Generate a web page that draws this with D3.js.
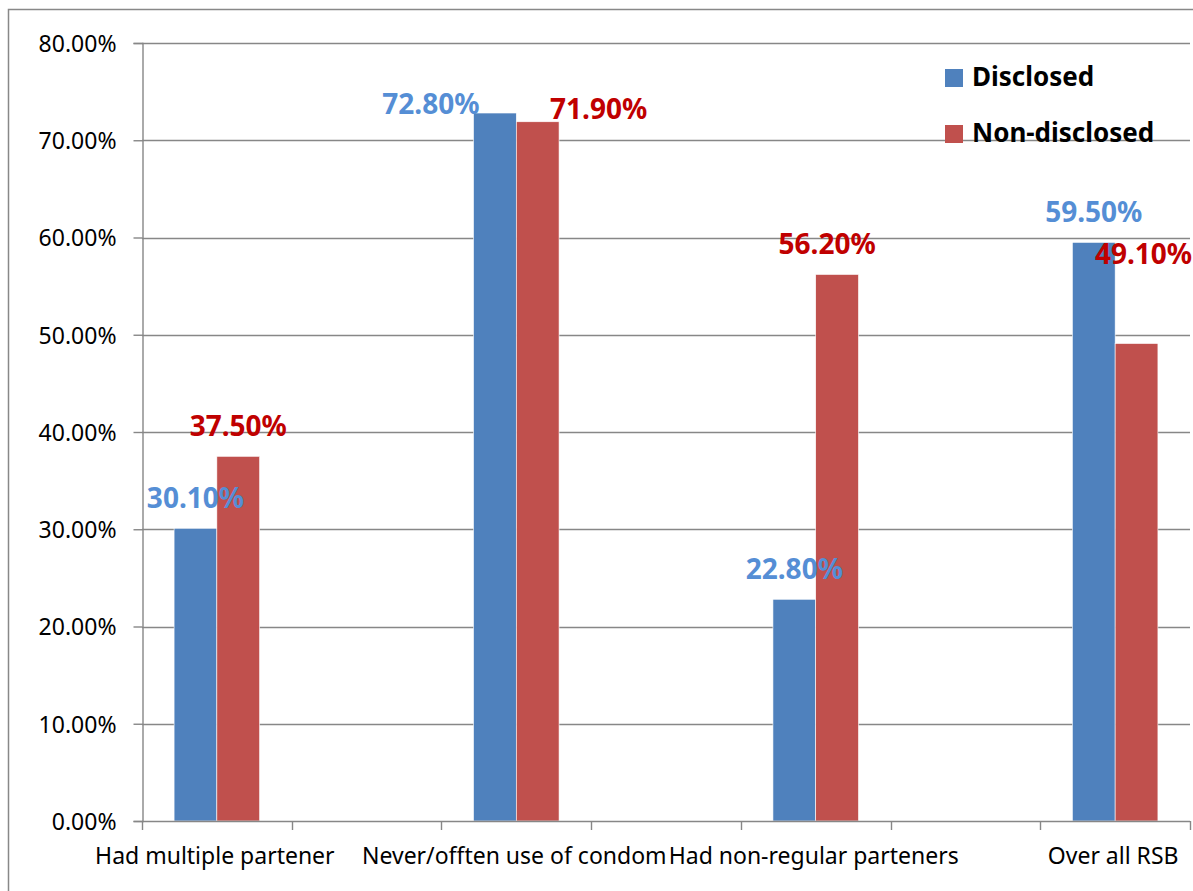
<!DOCTYPE html>
<html>
<head>
<meta charset="utf-8">
<script src="https://cdn.jsdelivr.net/npm/d3@7"></script>
<style>
  body { margin: 0; background: #fff; }
  text { font-family: "Noto Sans", "Open Sans", sans-serif; }
</style>
</head>
<body>
<div id="chart"></div>
<script>
// categories (empty slots between the real ones, as in the original sheet)
const categories = ['Had multiple partener', '', 'Never/offten use of condom', '', 'Had non-regular parteners', '', 'Over all RSB'];
const seriesNames = ['Disclosed', 'Non-disclosed'];
const disclosed = [30.1, null, 72.8, null, 22.8, null, 59.5];
const nonDisclosed = [37.5, null, 71.9, null, 56.2, null, 49.1];
const yTicks = [0, 10, 20, 30, 40, 50, 60, 70, 80];

// hand-moved data labels (offsets in px from the default spot above the bar)
const labelNudgeDisclosed = [[0, 0], null, [-64, 21], null, [0, 0], null, [0, 0]];
const labelNudgeNonDisclosed = [[0, 0], null, [61, 17], null, [-10, 0], null, [7, -60]];

const barColors = ['#4f81bd', '#c0504d'];
const labelColors = ['#558ed5', '#c00000'];

const W = 1193, H = 891;
const margin = {top: 43, right: 3, bottom: 70, left: 142};

const svg = d3.select('#chart')
  .append('svg')
  .attr('width', W)
  .attr('height', H);

// outer frame (only top and left edges show in the crop)
svg.append('rect')
  .attr('x', 8.5)
  .attr('y', 9.5)
  .attr('width', 1400)
  .attr('height', 1000)
  .attr('fill', 'none')
  .attr('stroke', '#888')
  .attr('stroke-width', 1.5);

const x0 = d3.scaleBand()
  .domain(d3.range(categories.length))
  .range([margin.left, W - margin.right]);

const bw = x0.bandwidth();
const gap = bw * 0.75 / 1.75; // excel gap width 75%
const x1 = d3.scaleBand()
  .domain(seriesNames)
  .range([gap / 2, bw - gap / 2]);

const y = d3.scaleLinear()
  .domain([0, 80])
  .range([H - margin.bottom, margin.top]);

// gridlines
svg.append('g')
  .selectAll('line')
  .data(yTicks.filter(d => d > 0))
  .enter()
  .append('line')
  .attr('x1', margin.left)
  .attr('x2', W - margin.right)
  .attr('y1', d => Math.round(y(d)) + 0.5)
  .attr('y2', d => Math.round(y(d)) + 0.5)
  .attr('stroke', '#878787')
  .attr('stroke-width', 1.4);

// bars
const series = [disclosed, nonDisclosed];
series.forEach((vals, s) => {
  svg.append('g')
    .selectAll('rect')
    .data(vals.map((v, i) => ({v: v, i: i})).filter(d => d.v !== null))
    .enter()
    .append('rect')
    .attr('x', d => x0(d.i) + x1(seriesNames[s]))
    .attr('y', d => y(d.v))
    .attr('width', x1.bandwidth())
    .attr('height', d => y(0) - y(d.v))
    .attr('fill', barColors[s])
    .attr('stroke', '#fff')
    .attr('stroke-width', 0.6);
});

// y axis
const yAxis = d3.axisLeft(y)
  .tickValues(yTicks)
  .tickSize(9)
  .tickPadding(17)
  .tickFormat(d => d.toFixed(2) + '%');

const gy = svg.append('g')
  .attr('transform', 'translate(' + (margin.left + 0.5) + ',0)')
  .call(yAxis);
gy.select('.domain').attr('stroke', '#878787').attr('stroke-width', 1.4);
gy.selectAll('.tick line').attr('stroke', '#878787').attr('stroke-width', 1.4);
gy.selectAll('.tick text')
  .attr('fill', '#000')
  .style('font-size', '23px')
  .attr('dy', '0.36em');

// x axis
const xTickPos = d3.range(categories.length + 1).map(i => i < categories.length ? x0(i) : x0(i - 1) + bw);
const gx = svg.append('g');
gx.append('line')
  .attr('x1', margin.left)
  .attr('x2', W - margin.right)
  .attr('y1', y(0) + 0.5)
  .attr('y2', y(0) + 0.5)
  .attr('stroke', '#878787')
  .attr('stroke-width', 1.4);
gx.selectAll('line.tk')
  .data(xTickPos)
  .enter()
  .append('line')
  .attr('class', 'tk')
  .attr('x1', d => Math.round(d) + 0.5)
  .attr('x2', d => Math.round(d) + 0.5)
  .attr('y1', y(0))
  .attr('y2', y(0) + 9)
  .attr('stroke', '#878787')
  .attr('stroke-width', 1.4);
gx.selectAll('text')
  .data(categories)
  .enter()
  .append('text')
  .attr('x', (d, i) => x0(i) + bw / 2 - 2)
  .attr('y', 864)
  .attr('text-anchor', 'middle')
  .style('font-size', '23px')
  .attr('fill', '#000')
  .text(d => d);

// data labels
const nudges = [labelNudgeDisclosed, labelNudgeNonDisclosed];
series.forEach((vals, s) => {
  svg.append('g')
    .selectAll('text')
    .data(vals.map((v, i) => ({v: v, i: i})).filter(d => d.v !== null))
    .enter()
    .append('text')
    .attr('x', d => x0(d.i) + x1(seriesNames[s]) + x1.bandwidth() / 2 + nudges[s][d.i][0])
    .attr('y', d => y(d.v) - 20 + nudges[s][d.i][1])
    .attr('text-anchor', 'middle')
    .attr('fill', labelColors[s])
    .style('font-size', '28px')
    .style('font-weight', '700')
    .text(d => d.v.toFixed(2) + '%');
});

// legend
const legend = svg.append('g')
  .attr('transform', 'translate(945,69)');
seriesNames.forEach((name, i) => {
  const g = legend.append('g').attr('transform', 'translate(0,' + (i * 56) + ')');
  g.append('rect')
    .attr('width', 18)
    .attr('height', 18)
    .attr('fill', barColors[i]);
  g.append('text')
    .attr('x', 27)
    .attr('y', 17)
    .style('font-size', '26px')
    .style('font-weight', '700')
    .attr('fill', '#000')
    .text(name);
});
</script>
</body>
</html>
